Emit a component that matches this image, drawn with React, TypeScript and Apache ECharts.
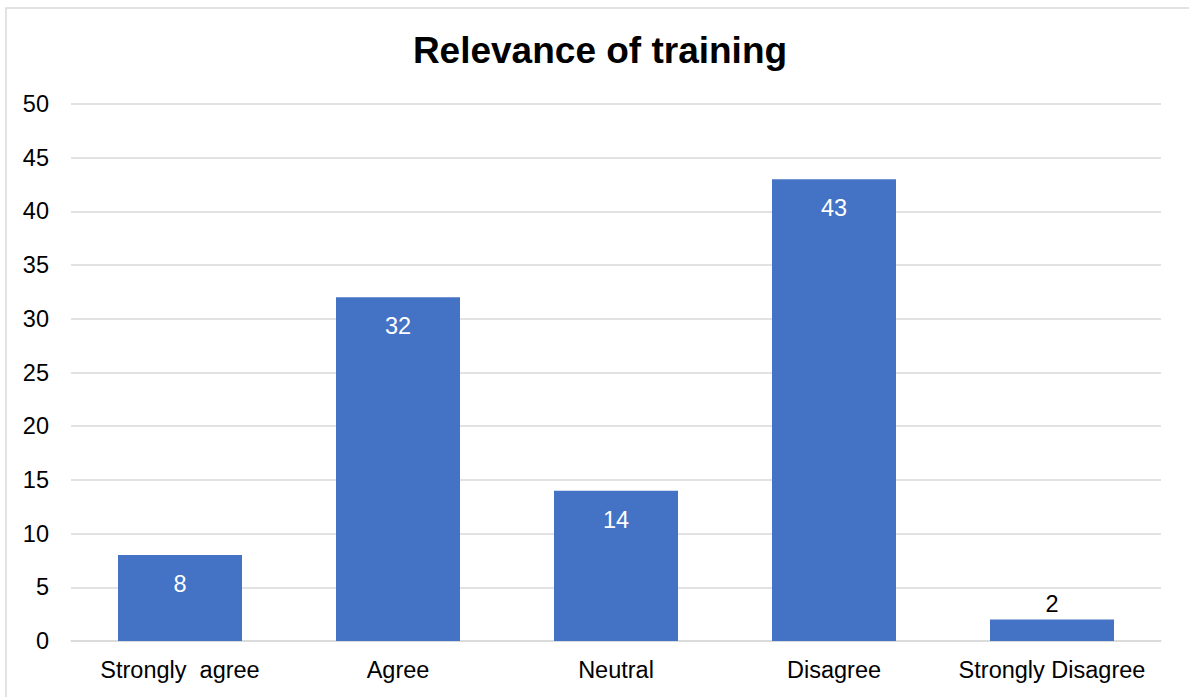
import React, { useEffect, useRef } from "react";
import * as echarts from "echarts";

const categories = ["Strongly  agree", "Agree", "Neutral", "Disagree", "Strongly Disagree"];
const values = [8, 32, 14, 43, 2];
const titleText = "Relevance of training";

export default function App() {
  const ref = useRef<HTMLDivElement>(null);
  useEffect(() => {
    document.body.style.margin = "0";
    const chart = echarts.init(ref.current!, undefined, { renderer: "svg" });
    const font = "Liberation Sans, Arial, sans-serif";
    chart.setOption({
      animation: false,
      backgroundColor: "#ffffff",
      title: {
        text: titleText,
        left: 595,
        top: 27,
        textAlign: "center",
        textStyle: { fontFamily: font, fontSize: 37, fontWeight: "bold", color: "#000000" },
      },
      graphic: [
        {
          type: "rect",
          shape: { x: 6, y: 8, width: 1200, height: 720 },
          style: { fill: "none", stroke: "#D9D9D9", lineWidth: 1.5 },
          silent: true,
          z: -1,
        },
      ],
      grid: { left: 71, right: 28, top: 104, bottom: 56, containLabel: false },
      xAxis: {
        type: "category",
        data: categories,
        axisLine: { show: true, lineStyle: { color: "#D9D9D9", width: 1.5 } },
        axisTick: { show: false },
        axisLabel: { fontFamily: font, fontSize: 23.5, color: "#000000", margin: 17, interval: 0 },
      },
      yAxis: {
        type: "value",
        min: 0,
        max: 50,
        interval: 5,
        axisLine: { show: false },
        axisTick: { show: false },
        splitLine: { lineStyle: { color: "#D9D9D9", width: 1.5 } },
        axisLabel: { fontFamily: font, fontSize: 23.5, color: "#000000", margin: 22 },
      },
      series: [
        {
          type: "bar",
          data: values.map((v) => ({
            value: v,
            label:
              v < 5
                ? { position: "top", color: "#000000", distance: 4 }
                : { position: "insideTop", color: "#ffffff", distance: 17 },
          })),
          barWidth: 124,
          itemStyle: { color: "#4472C4" },
          label: { show: true, fontFamily: font, fontSize: 23.5 },
        },
      ],
    });
    return () => chart.dispose();
  }, []);
  return (
    <div
      ref={ref}
      style={{ position: "absolute", left: 0, top: 0, width: 1189, height: 697 }}
    />
  );
}
